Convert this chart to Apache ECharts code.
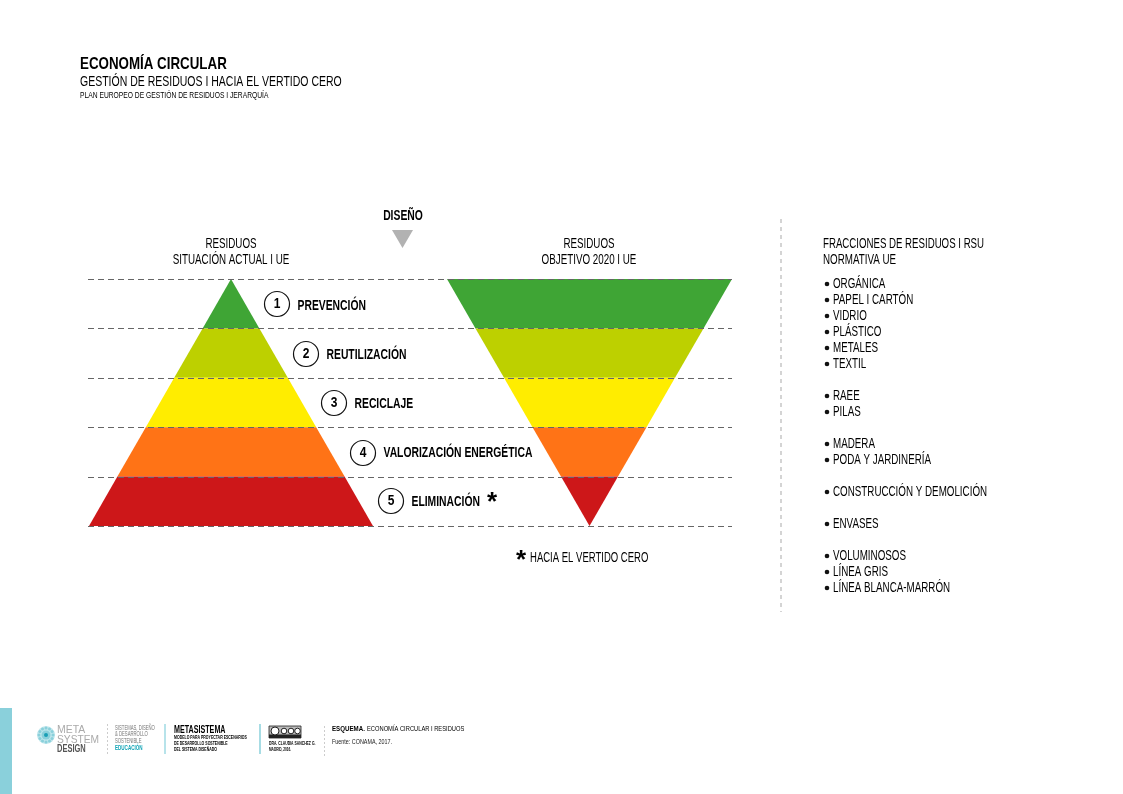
<!DOCTYPE html>
<html>
<head>
<meta charset="utf-8">
<style>
html, body { margin: 0; padding: 0; background: #fff; }
#main { width: 1123px; height: 794px; }
</style>
<script src="https://cdn.jsdelivr.net/npm/echarts@6/dist/echarts.min.js"></script>
</head>
<body>
<div id="main"></div>
<script>
var levelNames = ['PREVENCIÓN', 'REUTILIZACIÓN', 'RECICLAJE', 'VALORIZACIÓN ENERGÉTICA', 'ELIMINACIÓN'];
var levelColors = ['#3FA535', '#BDD000', '#FFED00', '#FF7316', '#CD1719'];
var actualValues = [20, 40, 60, 80, 100];
var targetValues = [100, 80, 60, 40, 20];
var fractions = ['ORGÁNICA', 'PAPEL I CARTÓN', 'VIDRIO', 'PLÁSTICO', 'METALES', 'TEXTIL', '',
	'RAEE', 'PILAS', '',
	'MADERA', 'PODA Y JARDINERÍA', '',
	'CONSTRUCCIÓN Y DEMOLICIÓN', '',
	'ENVASES', '',
	'VOLUMINOSOS', 'LÍNEA GRIS', 'LÍNEA BLANCA-MARRÓN'];

var FONT = '"Liberation Sans", sans-serif';
var top0 = 279, bandH = 49.4;
var graphics = [];

// el original usa una letra condensada: se estrecha con scaleX
function txt(x, y, text, size, opts){
	opts = opts || {};
	graphics.push({
		type: 'text', x: x, y: y, z: 20,
		scaleX: opts.sx || (opts.bold ? 0.74 : 0.7),
		style: {
			text: text,
			fontFamily: FONT,
			fontSize: size,
			fontWeight: opts.bold ? 'bold' : 'normal',
			fill: opts.color || '#000',
			align: opts.align || 'left',
			verticalAlign: 'middle'
		}
	});
}

function dashLine(x1, y1, x2, y2, color, dash, width){
	graphics.push({
		type: 'line', z: 10,
		shape: { x1: x1, y1: y1, x2: x2, y2: y2 },
		style: { stroke: color, lineWidth: width || 1, lineDash: dash }
	});
}

function dot(cx, cy, r, fill){
	graphics.push({ type: 'circle', z: 21, shape: { cx: cx, cy: cy, r: r }, style: { fill: fill } });
}

function funnelData(values){
	return values.map(function(v, i){
		return { name: levelNames[i], value: v, itemStyle: { color: levelColors[i] } };
	});
}

// guias de nivel
for (var i = 0; i <= levelNames.length; i++) {
	var ly = Math.round(top0 + i * bandH) + 0.5;
	dashLine(88, ly, 732, ly, '#666', [6, 4]);
}

// titulos
txt(80, 64, 'ECONOMÍA CIRCULAR', 17, { bold: true, sx: 0.785 });
txt(80, 82, 'GESTIÓN DE RESIDUOS I HACIA EL VERTIDO CERO', 15, { sx: 0.7 });
txt(80, 95.5, 'PLAN EUROPEO DE GESTIÓN DE RESIDUOS I JERARQUÍA', 8.5, { sx: 0.79 });

txt(403, 216, 'DISEÑO', 14, { bold: true, align: 'center', sx: 0.74 });
graphics.push({ type: 'polygon', z: 20, shape: { points: [[392, 230], [413, 230], [402.5, 248]] }, style: { fill: '#B2B2B2' } });

txt(231, 244, 'RESIDUOS', 14, { align: 'center' });
txt(231, 260, 'SITUACIÓN ACTUAL I UE', 14, { align: 'center' });
txt(589, 244, 'RESIDUOS', 14, { align: 'center' });
txt(589, 260, 'OBJETIVO 2020 I UE', 14, { align: 'center' });

// numeros y nombres de nivel
var circleX = [277, 306, 334, 363, 391];
var circleY = [304, 354, 403, 453, 501];
levelNames.forEach(function(name, i){
	graphics.push({ type: 'circle', z: 20, shape: { cx: circleX[i], cy: circleY[i], r: 12.5 }, style: { fill: '#fff', stroke: '#111', lineWidth: 1.2 } });
	txt(circleX[i], circleY[i], String(i + 1), 15, { bold: true, align: 'center', sx: 0.8 });
	txt(circleX[i] + 20.5, top0 + 27 + i * 49, name, 14, { bold: true });
});
txt(487, 503, '*', 26, { bold: true, sx: 1 });
txt(516, 561, '*', 26, { bold: true, sx: 1 });
txt(530, 558, 'HACIA EL VERTIDO CERO', 14, { sx: 0.68 });

// panel derecho
dashLine(781, 219, 781, 612, '#aaa', [4, 4]);
txt(823, 244, 'FRACCIONES DE RESIDUOS I RSU', 14, { sx: 0.69 });
txt(823, 260, 'NORMATIVA UE', 14);
fractions.forEach(function(name, i){
	if (!name) return;
	var fy = 284 + i * 16;
	dot(827, fy, 2.3, '#111');
	txt(833, fy, name, 14);
});

// pie de pagina
graphics.push({ type: 'rect', z: 20, shape: { x: 0, y: 708, width: 12, height: 86 }, style: { fill: '#8AD0DB' } });
dot(46, 735, 9, '#BFE6EC');
for (var p = 0; p < 12; p++) {
	var ang = p * Math.PI / 6;
	dot(46 + 7 * Math.cos(ang), 735 + 7 * Math.sin(ang), 1.5, '#8AD0DB');
}
dot(46, 735, 4.5, '#8AD0DB');
dot(46, 735, 2, '#1A9FB5');
txt(57, 730, 'META', 11, { color: '#aaa', sx: 0.95 });
txt(57, 740, 'SYSTEM', 11, { color: '#aaa', sx: 0.93 });
txt(57, 749, 'DESIGN', 10, { bold: true, color: '#555', sx: 0.75 });
dashLine(107.5, 724, 107.5, 754, '#ccc', [2, 2]);
txt(115, 728, 'SISTEMAS, DISEÑO', 6.5, { color: '#777', sx: 0.65 });
txt(115, 734.5, '& DESARROLLO', 6.5, { color: '#777', sx: 0.65 });
txt(115, 741.5, 'SOSTENIBLE', 6.5, { color: '#777', sx: 0.65 });
txt(115, 748, 'EDUCACIÓN', 6.5, { bold: true, color: '#0FA3B5', sx: 0.7 });
dashLine(165, 724, 165, 754, '#B7E3EA', null, 2);
txt(174, 729.5, 'METASISTEMA', 11, { bold: true, sx: 0.65 });
txt(174, 737.7, 'MODELO PARA PROYECTAR ESCENARIOS', 5, { bold: true, sx: 0.7 });
txt(174, 743.7, 'DE DESARROLLO SOSTENIBLE', 5, { bold: true, sx: 0.7 });
txt(174, 749.7, 'DEL SISTEMA DISEÑADO', 5, { bold: true, sx: 0.7 });
dashLine(260, 724, 260, 754, '#8AD0DB', null, 1.5);
graphics.push({ type: 'rect', z: 20, shape: { x: 269, y: 726, width: 32, height: 12 }, style: { fill: '#bbb', stroke: '#222', lineWidth: 0.8 } });
graphics.push({ type: 'rect', z: 20, shape: { x: 269, y: 734.5, width: 32, height: 3.5 }, style: { fill: '#222' } });
[[275, 4], [284, 2.8], [291, 2.8], [297.5, 2.8]].forEach(function(c){
	graphics.push({ type: 'circle', z: 21, shape: { cx: c[0], cy: 731, r: c[1] }, style: { fill: '#fff', stroke: '#222', lineWidth: 1 } });
});
txt(269, 743.7, 'DRA. CLAUDIA SANCHEZ G.', 5, { bold: true, sx: 0.68 });
txt(269, 749.7, 'MADRID, 2016.', 4.5, { bold: true, sx: 0.7 });
dashLine(324.5, 726, 324.5, 757, '#ccc', [2, 2]);
txt(332, 729, 'ESQUEMA.', 8, { bold: true, sx: 0.77 });
txt(367, 729, 'ECONOMÍA CIRCULAR I RESIDUOS', 8, { sx: 0.72 });
txt(332, 742, 'Fuente: CONAMA, 2017.', 7.5, { sx: 0.72, color: '#222' });

var chart = echarts.init(document.getElementById('main'));
chart.setOption({
	animation: false,
	backgroundColor: '#fff',
	series: [
		{
			type: 'funnel', sort: 'ascending', gap: 0, min: 0, max: 100, minSize: '0%', maxSize: '100%',
			left: 89, top: top0, width: 284, height: 247,
			label: { show: false }, labelLine: { show: false },
			itemStyle: { borderWidth: 0 },
			data: funnelData(actualValues)
		},
		{
			type: 'funnel', sort: 'descending', gap: 0, min: 0, max: 100, minSize: '0%', maxSize: '100%',
			left: 447, top: top0, width: 285, height: 247,
			label: { show: false }, labelLine: { show: false },
			itemStyle: { borderWidth: 0 },
			data: funnelData(targetValues)
		}
	],
	graphic: { elements: graphics }
});
</script>
</body>
</html>
